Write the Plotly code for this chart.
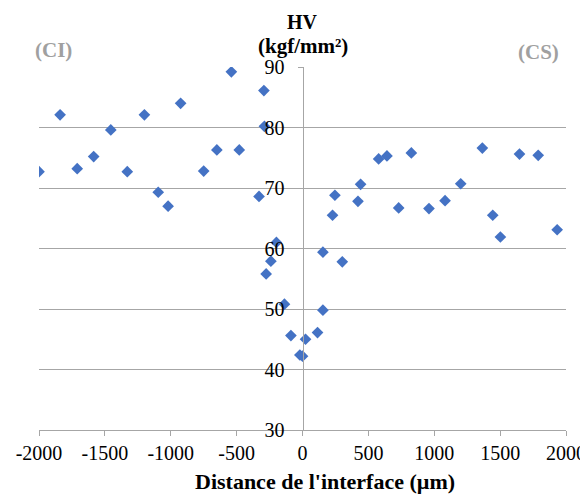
import plotly.graph_objects as go

distance = [-2000, -1840, -1710, -1585, -1455, -1330, -1200, -1095, -1020, -925,
            -750, -650, -540, -480, -330, -293, -289, -276, -240, -198,
            -137, -88, -20, 0, 23, 114, 155, 155, 228, 246, 302,
            421, 441, 578, 641, 730, 826, 960, 1082, 1201, 1365,
            1444, 1502, 1647, 1789, 1933]
hv = [72.7, 82.1, 73.2, 75.2, 79.6, 72.7, 82.1, 69.3, 67.0, 84.0,
      72.8, 76.3, 89.2, 76.3, 68.6, 86.1, 80.2, 55.8, 57.9, 61.0,
      50.8, 45.6, 42.4, 42.2, 45.0, 46.1, 49.8, 59.4, 65.5, 68.8, 57.8,
      67.8, 70.6, 74.8, 75.3, 66.7, 75.8, 66.6, 67.9, 70.7, 76.6,
      65.5, 61.9, 75.6, 75.4, 63.1]

x_ticks = [-2000, -1500, -1000, -500, 0, 500, 1000, 1500, 2000]
x_labels = ["-2000", "-1500", "-1000", "-500", "0", "500", "1000", "1500", "2000"]
y_ticks = [30, 40, 50, 60, 70, 80, 90]

serif = "Liberation Serif"
grid = "#a6a6a6"
label_grey = "#a0a0a0"

fig = go.Figure()
fig.add_trace(go.Scatter(
    x=distance, y=hv, mode="markers",
    marker=dict(symbol="diamond", size=9, color="#4472C4"),
    showlegend=False, hoverinfo="x+y"))

# page body has an 8px margin, so the figure is 580x487 placed at (8, 8)
fig.update_layout(
    width=580, height=487,
    margin=dict(l=31, r=22, t=59, b=65, autoexpand=False),
    paper_bgcolor="white", plot_bgcolor="white",
    font=dict(family=serif, size=20, color="black"),
    xaxis=dict(range=[-2000, 2000], tickvals=x_ticks, ticktext=x_labels,
               automargin=False,
               showgrid=False, zeroline=False,
               showline=True, linecolor=grid, linewidth=1,
               ticks="outside", ticklen=5, tickcolor=grid,
               tickfont=dict(family=serif, size=20)),
    yaxis=dict(range=[30, 90], tickvals=y_ticks, automargin=False,
               anchor="free", position=0.5,
               showgrid=True, gridcolor=grid, gridwidth=1,
               zeroline=False,
               showline=True, linecolor=grid, linewidth=1,
               ticks="outside", ticklen=5, tickcolor=grid,
               ticklabelstandoff=9,
               tickfont=dict(family=serif, size=20)),
)

def note(text, x, y, size, color="black"):
    return dict(text=text, x=x, y=y, xref="paper", yref="paper",
                xanchor="center", yanchor="middle", showarrow=False,
                font=dict(family=serif, size=size, color=color))

ann = [
    note("<b>HV</b>", 0.5, 1.124, 20),
    note("<b>(kgf/mm²)</b>", 0.5, 1.058, 21),
    note("<b>(CI)</b>", 0.028, 1.047, 21, label_grey),
    note("<b>(CS)</b>", 0.947, 1.041, 21, label_grey),
    note("<b>Distance de l'interface (µm)</b>", 0.543, -0.143, 22),
]
fig.update_layout(annotations=ann)

fig.write_html("out.html")
